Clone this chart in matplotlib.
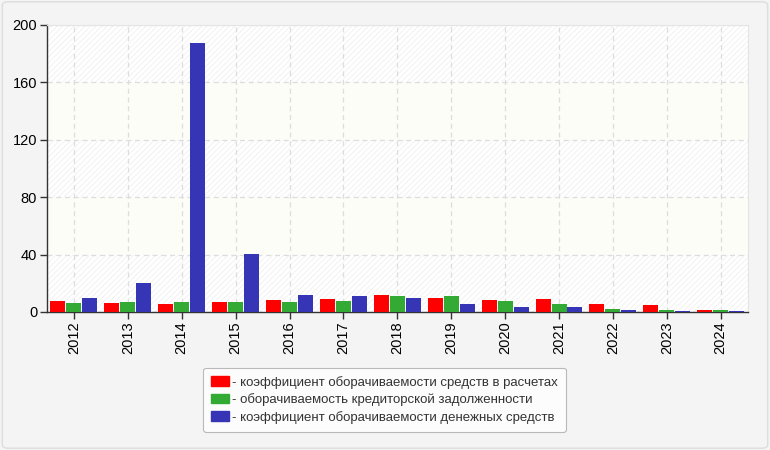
import numpy as np
import matplotlib.pyplot as plt
from matplotlib.patches import Patch, FancyBboxPatch

plt.rcParams['font.family'] = ['Liberation Sans', 'DejaVu Sans']
plt.rcParams['hatch.linewidth'] = 0.6

years = ["2012", "2013", "2014", "2015", "2016", "2017", "2018",
         "2019", "2020", "2021", "2022", "2023", "2024"]
settlements = [7.9, 6.5, 5.8, 7.2, 8.6, 9.3, 12.1, 10.0, 8.6, 9.3, 5.8, 5.1, 1.6]
payables = [6.5, 7.2, 7.2, 7.2, 7.2, 7.9, 11.4, 11.4, 7.9, 5.8, 2.3, 1.6, 1.6]
cash = [10.0, 20.4, 187.5, 40.6, 12.1, 11.4, 10.0, 5.8, 3.7, 3.7, 1.6, 0.9, 0.9]
labels = ["- коэффициент оборачиваемости средств в расчетах",
          "- оборачиваемость кредиторской задолженности",
          "- коэффициент оборачиваемости денежных средств"]
colors = ["#ff0000", "#33aa33", "#3535b5"]

fig = plt.figure(figsize=(7.7, 4.5), dpi=100)
fig.patch.set_facecolor("#f4f4f4")
fig.patches.append(FancyBboxPatch((0.003, 0.004), 0.994, 0.992,
                                  boxstyle="round,pad=0,rounding_size=0.008",
                                  transform=fig.transFigure, facecolor="none",
                                  edgecolor="#dddddd", linewidth=1.0))

ax = fig.add_axes([0.061, 0.3067, 0.910, 0.6378])
ax.set_facecolor("white")

# alternating bands: hatched / plain
for lo in range(0, 200, 40):
    if (lo // 40) % 2 == 0:
        ax.axhspan(lo, lo + 40, facecolor="white", edgecolor="#f0f0f0",
                   hatch="//////", linewidth=0, zorder=0)
    else:
        ax.axhspan(lo, lo + 40, facecolor="#fcfdf7", linewidth=0, zorder=0)

x = np.arange(len(years))
w = 0.278
step = 0.296
for i, (vals, c) in enumerate(zip([settlements, payables, cash], colors)):
    ax.bar(x + (i - 1) * step, vals, width=w, color=c, zorder=3)

ax.set_xlim(-0.5, len(years) - 0.5)
ax.set_ylim(0, 200)
ax.set_yticks([0, 40, 80, 120, 160, 200])
ax.set_xticks(x)
ax.set_xticklabels(years, rotation=90)
ax.tick_params(axis="both", labelsize=10.5, color="#333333", length=5, width=1, pad=2)
ax.grid(True, color="#dddddd", linestyle=(0, (4, 3)), linewidth=0.9, zorder=1)

for s in ["top", "right"]:
    ax.spines[s].set_color("#e4e4e4")
    ax.spines[s].set_linewidth(0.8)
for s in ["left", "bottom"]:
    ax.spines[s].set_color("#333333")
    ax.spines[s].set_linewidth(1.0)

handles = [Patch(facecolor=c, edgecolor=c) for c in colors]
leg = fig.legend(handles, labels, loc="center", bbox_to_anchor=(0.499, 0.112),
                 fontsize=9.5, frameon=True, fancybox=True, handlelength=1.4,
                 handleheight=0.7, handletextpad=0.2, labelspacing=0.35,
                 borderpad=0.6, edgecolor="#aaaaaa", facecolor="white")
leg.get_frame().set_linewidth(0.8)
for t in leg.get_texts():
    t.set_color("#333333")

fig.savefig("out.png", dpi=100, facecolor=fig.get_facecolor())
